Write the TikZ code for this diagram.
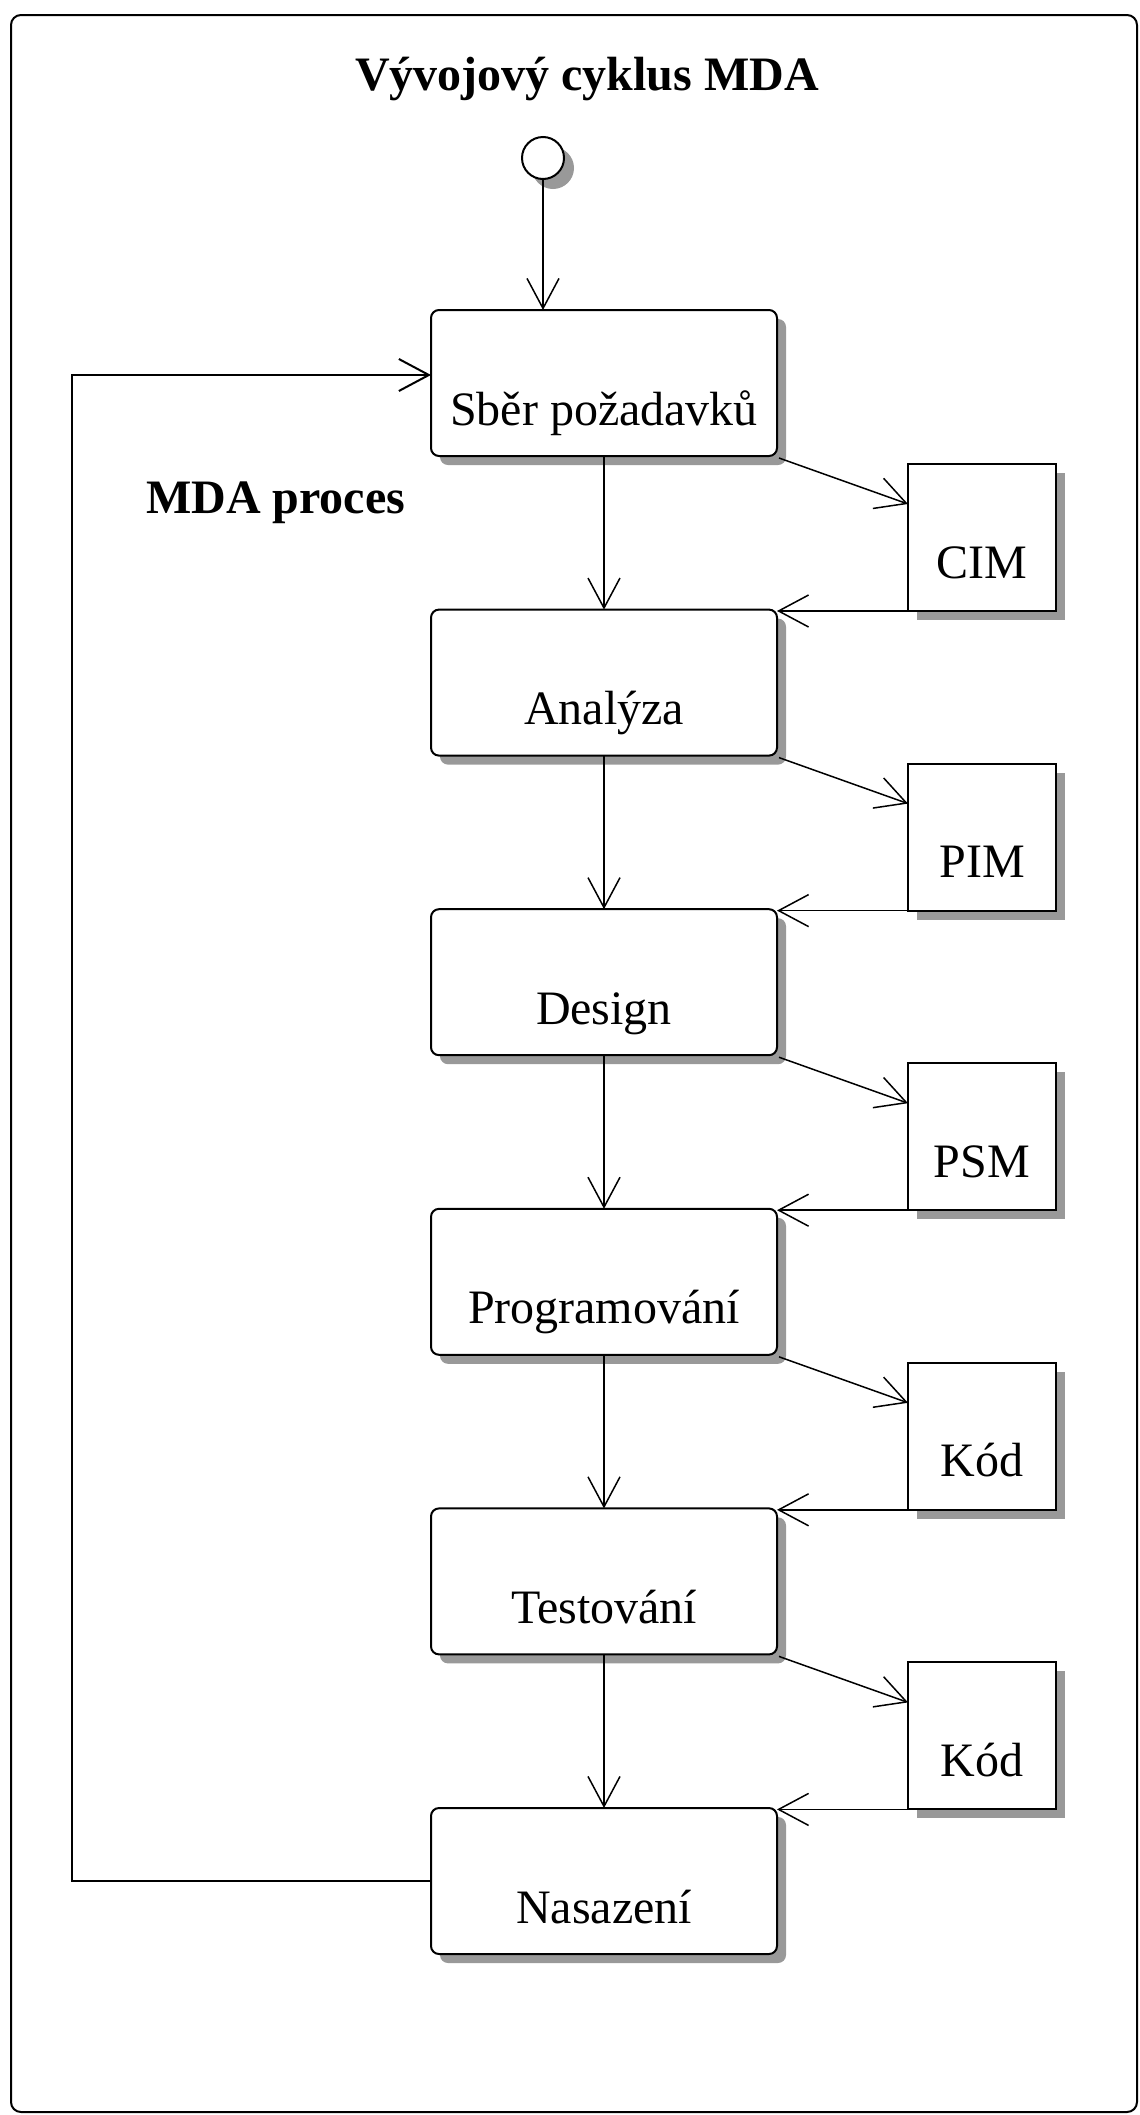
\documentclass[tikz,border=0pt]{standalone}
\usepackage{fontspec}
\setmainfont{Liberation Serif}
\usetikzlibrary{arrows.meta, shadows}
\tikzset{
  stage/.style={rectangle, rounded corners=4pt, draw=black, line width=1pt, fill=white, minimum width=173pt, inner sep=0pt, outer sep=0pt, text height=57.5pt, text depth=15.5pt, font=\fontsize{24}{28}\selectfont, drop shadow={shadow xshift=4.5pt, shadow yshift=-4.5pt, fill=black!40, opacity=1}},
  artefact/.style={rectangle, draw=black, line width=1pt, fill=white, minimum width=74pt, inner sep=0pt, outer sep=0pt, text height=57pt, text depth=16.5pt, font=\fontsize{24}{28}\selectfont, drop shadow={shadow xshift=4.5pt, shadow yshift=-4.5pt, fill=black!40, opacity=1}},
  startnode/.style={circle, draw=black, line width=1pt, fill=white, minimum size=21pt, inner sep=0pt, drop shadow={shadow xshift=5pt, shadow yshift=-5pt, fill=black!40, opacity=1}},
  flow/.style={line width=0.75pt, -{Straight Barb[length=15pt, width=16pt]}},
  heading/.style={font=\bfseries\fontsize{24}{28}\selectfont, anchor=base}
}

\begin{document}
\begin{tikzpicture}[x=0.5pt, y=-0.5pt]

    \useasboundingbox (0,0) rectangle (1140,2115);

    % Ramecek diagramu
    \draw[line width=1pt, rounded corners=5pt] (11,15) rectangle (1137,2112);

    % Nadpisy
    \node[heading] (title) at (587,90) {Vývojový cyklus MDA};
    \node[heading, anchor=base west] (mdaproces) at (139,513) {MDA proces};

    % Pocatecni uzel
    \node[startnode] (init) at (543,158) {};

    % Faze vyvoje
    \foreach \i/\nm/\txt in {0/sber/{Sběr požadavků}, 1/analyza/Analýza, 2/design/Design,
        3/program/Programování, 4/test/Testování, 5/nasazeni/Nasazení} {
        \node[stage] (\nm) at (604, {383+\i*299.6}) {\txt};
    }

    % Modely (artefakty)
    \foreach \i/\nm/\txt in {0/cim/CIM, 1/pim/PIM, 2/psm/PSM, 3/kod1/Kód, 4/kod2/Kód} {
        \node[artefact] (\nm) at (982, {537.5+\i*299.6}) {\txt};
    }

    % Prechody
    \draw[flow] (init) -- (init |- sber.north);

    \foreach \a/\m/\b in {sber/cim/analyza, analyza/pim/design, design/psm/program,
        program/kod1/test, test/kod2/nasazeni} {
        \draw[flow] (\a) -- (\b);
        \draw[flow] ([shift={(1pt,-1pt)}]\a.south east) -- ([yshift=-20pt]\m.north west);
        \draw[flow] (\m.south west) -- (\m.south west -| \b.north east);
    }

    % Navrat na zacatek cyklu
    \coordinate (sberin) at ([yshift=4pt]sber.west);
    \draw[flow, line width=1pt] (nasazeni.west) -- ++(-359,0) |- (sberin);

\end{tikzpicture}
\end{document}
